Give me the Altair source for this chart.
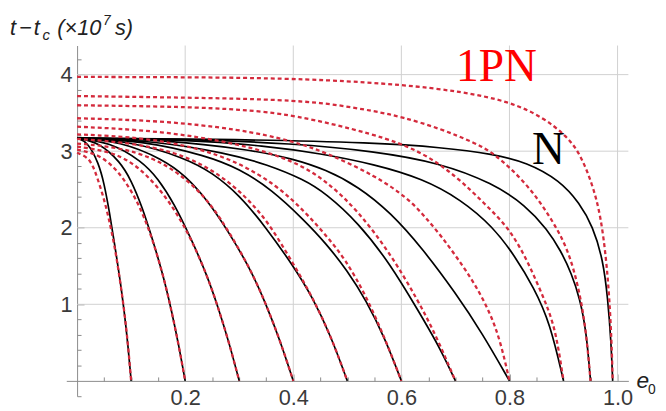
import altair as alt
import pandas as pd

# ---------------- data ----------------
E0 = [0.1, 0.2, 0.3, 0.4, 0.5, 0.6, 0.7, 0.8, 0.9, 0.95, 0.99]

# Newtonian curves (black, solid): eccentricity e and time t (x10^7 s)
N_E = [
    [0, 0.02, 0.04, 0.05, 0.06, 0.07, 0.08, 0.087, 0.094, 0.1],
    [0, 0.04, 0.08, 0.10, 0.12, 0.14, 0.16, 0.174, 0.188, 0.2],
    [0, 0.06, 0.12, 0.15, 0.18, 0.21, 0.24, 0.261, 0.282, 0.3],
    [0, 0.08, 0.16, 0.20, 0.24, 0.28, 0.32, 0.348, 0.376, 0.4],
    [0, 0.10, 0.20, 0.25, 0.30, 0.35, 0.40, 0.435, 0.47, 0.5],
    [0, 0.12, 0.24, 0.30, 0.36, 0.42, 0.46, 0.50, 0.535, 0.57, 0.6],
    [0, 0.14, 0.28, 0.35, 0.42, 0.46, 0.52, 0.58, 0.63, 0.67, 0.7],
    [0, 0.16, 0.32, 0.40, 0.46, 0.52, 0.58, 0.64, 0.70, 0.75, 0.8],
    [0, 0.20, 0.35, 0.45, 0.55, 0.64, 0.71, 0.77, 0.81, 0.845, 0.875, 0.9],
    [0, 0.20, 0.40, 0.55, 0.67, 0.77, 0.83, 0.87, 0.895, 0.915, 0.93, 0.942, 0.95],
    [0, 0.30, 0.552, 0.674, 0.771, 0.832, 0.893, 0.93, 0.954, 0.973, 0.982, 0.988, 0.991],
]
N_T = [
    [3.17, 3.12, 2.84, 2.58, 2.20, 1.76, 1.30, 0.92, 0.48, 0],
    [3.17, 3.12, 2.86, 2.62, 2.28, 1.84, 1.36, 0.94, 0.47, 0],
    [3.17, 3.12, 2.87, 2.64, 2.31, 1.87, 1.39, 0.96, 0.48, 0],
    [3.17, 3.13, 2.89, 2.68, 2.37, 1.95, 1.47, 1.03, 0.52, 0],
    [3.17, 3.13, 2.91, 2.72, 2.43, 2.00, 1.50, 1.10, 0.58, 0],
    [3.17, 3.14, 2.94, 2.77, 2.50, 2.10, 1.80, 1.44, 1.05, 0.55, 0],
    [3.17, 3.14, 2.97, 2.83, 2.63, 2.45, 2.07, 1.52, 0.93, 0.45, 0],
    [3.17, 3.15, 3.02, 2.90, 2.76, 2.54, 2.20, 1.72, 1.15, 0.62, 0],
    [3.17, 3.15, 3.07, 2.97, 2.83, 2.64, 2.37, 2.01, 1.63, 1.22, 0.76, 0],
    [3.17, 3.16, 3.10, 3.00, 2.85, 2.58, 2.29, 1.98, 1.70, 1.40, 1.08, 0.66, 0],
    [3.17, 3.155, 3.11, 3.05, 2.96, 2.855, 2.62, 2.32, 2.02, 1.59, 1.07, 0.51, 0],
]

# 1PN curves (red, dotted)
PN_E = [
    [0, 0.02, 0.03, 0.038, 0.048, 0.056, 0.064, 0.074, 0.087, 0.094, 0.1],
    [0, 0.04, 0.07, 0.09, 0.11, 0.125, 0.14, 0.16, 0.174, 0.188, 0.2],
    [0, 0.06, 0.10, 0.13, 0.16, 0.185, 0.21, 0.24, 0.261, 0.282, 0.3],
    [0, 0.08, 0.14, 0.18, 0.22, 0.25, 0.28, 0.32, 0.348, 0.376, 0.4],
    [0, 0.10, 0.18, 0.24, 0.29, 0.33, 0.36, 0.40, 0.435, 0.47, 0.5],
    [0, 0.12, 0.22, 0.30, 0.37, 0.42, 0.461, 0.497, 0.534, 0.57, 0.6],
    [0, 0.15, 0.30, 0.40, 0.46, 0.52, 0.58, 0.63, 0.665, 0.7],
    [0, 0.15, 0.30, 0.40, 0.461, 0.552, 0.613, 0.643, 0.674, 0.704, 0.735, 0.765, 0.784, 0.8],
    [0, 0.20, 0.30, 0.40, 0.552, 0.637, 0.704, 0.753, 0.796, 0.826, 0.85, 0.872, 0.887, 0.9],
    [0, 0.30, 0.40, 0.47, 0.552, 0.60, 0.674, 0.735, 0.771, 0.832, 0.875, 0.909, 0.93, 0.942, 0.95],
    [0, 0.30, 0.466, 0.60, 0.71, 0.80, 0.863, 0.905, 0.93, 0.954, 0.969, 0.979, 0.985, 0.989, 0.991],
]
PN_T = [
    [2.98, 2.92, 2.80, 2.64, 2.42, 2.20, 1.95, 1.58, 0.94, 0.49, 0],
    [3.02, 2.96, 2.78, 2.60, 2.36, 2.12, 1.84, 1.36, 0.94, 0.47, 0],
    [3.06, 3.00, 2.86, 2.68, 2.44, 2.18, 1.87, 1.39, 0.96, 0.48, 0],
    [3.10, 3.05, 2.91, 2.75, 2.52, 2.28, 1.96, 1.47, 1.03, 0.52, 0],
    [3.16, 3.11, 2.99, 2.80, 2.55, 2.27, 2.00, 1.53, 1.10, 0.58, 0],
    [3.22, 3.18, 3.05, 2.85, 2.55, 2.22, 1.90, 1.58, 1.12, 0.55, 0],
    [3.32, 3.27, 3.10, 2.88, 2.62, 2.22, 1.66, 1.06, 0.58, 0],
    [3.43, 3.40, 3.29, 3.13, 2.98, 2.68, 2.38, 2.15, 1.89, 1.60, 1.28, 0.88, 0.50, 0],
    [3.60, 3.58, 3.545, 3.48, 3.22, 3.00, 2.66, 2.32, 2.02, 1.67, 1.30, 0.94, 0.60, 0],
    [3.72, 3.69, 3.66, 3.62, 3.52, 3.45, 3.29, 3.11, 2.98, 2.58, 2.15, 1.72, 1.16, 0.64, 0],
    [3.97, 3.965, 3.93, 3.87, 3.78, 3.65, 3.44, 3.20, 2.98, 2.56, 2.15, 1.59, 1.07, 0.50, 0],
]

X_MAJOR = [0.2, 0.4, 0.6, 0.8, 1.0]
X_MINOR = [0.05, 0.1, 0.15, 0.25, 0.3, 0.35, 0.45, 0.5, 0.55, 0.65, 0.7, 0.75,
           0.85, 0.9, 0.95]
Y_MAJOR = [1, 2, 3, 4]
Y_MINOR = [-0.2, 0.2, 0.4, 0.6, 0.8, 1.2, 1.4, 1.6, 1.8, 2.2, 2.4, 2.6, 2.8,
           3.2, 3.4, 3.6, 3.8, 4.2]

# ---------------- layout / style ----------------
X_DOMAIN = [-0.02, 1.02]
Y_DOMAIN = [-0.2, 4.38]
W, H = 569, 355
PAD = {"left": 59, "top": 35.5, "right": 30, "bottom": 12.5}

AXIS_COL = "#8a8a8a"
GRID_COL = "#d0d0d0"
LABEL_COL = "#3a3a3a"
RED = "#d42a3c"
FONT = "Liberation Sans"

xfrac0 = (0 - X_DOMAIN[0]) / (X_DOMAIN[1] - X_DOMAIN[0])
yfrac0 = (0 - Y_DOMAIN[0]) / (Y_DOMAIN[1] - Y_DOMAIN[0])

xs = alt.Scale(domain=X_DOMAIN, nice=False, zero=False)
ys = alt.Scale(domain=Y_DOMAIN, nice=False, zero=False)

ax_x_main = alt.Axis(orient="bottom", offset=-yfrac0 * H, values=X_MAJOR, format=".1f",
                     grid=False, ticks=False, tickSize=0, domain=True, domainColor=AXIS_COL,
                     domainWidth=1, labelFont=FONT, labelFontSize=22, labelColor=LABEL_COL,
                     labelPadding=7, labelFlush=False, labelOverlap=False, title=None)
ax_y_main = alt.Axis(orient="left", offset=-xfrac0 * W, values=Y_MAJOR, format="d",
                     grid=False, ticks=False, tickSize=0, domain=True, domainColor=AXIS_COL,
                     domainWidth=1, labelFont=FONT, labelFontSize=22, labelColor=LABEL_COL,
                     labelPadding=5, labelFlush=False, labelOverlap=False, title=None)
ax_x_minor = alt.Axis(orient="top", offset=-(1 - yfrac0) * H, values=X_MINOR, labels=False,
                      grid=False, ticks=True, tickSize=4, tickColor=AXIS_COL, domain=False,
                      title=None)
ax_y_minor = alt.Axis(orient="right", offset=-(1 - xfrac0) * W, values=Y_MINOR, labels=False,
                      grid=False, ticks=True, tickSize=4, tickColor=AXIS_COL, domain=False,
                      title=None)
ax_x_major_t = alt.Axis(orient="top", offset=-(1 - yfrac0) * H, values=X_MAJOR, labels=False,
                        grid=False, ticks=True, tickSize=7, tickColor=AXIS_COL, domain=False,
                        title=None)
ax_y_major_t = alt.Axis(orient="right", offset=-(1 - xfrac0) * W, values=Y_MAJOR, labels=False,
                        grid=False, ticks=True, tickSize=7, tickColor=AXIS_COL, domain=False,
                        title=None)

# ---------------- tables ----------------
def curves_table(e0s, elists, tlists, prefix):
    rows = []
    for e0, es, ts in zip(e0s, elists, tlists):
        for e, t in zip(es, ts):
            rows.append({"curve": f"{prefix}{e0}", "e": e, "t": t})
    return pd.DataFrame(rows)

df_n = curves_table(E0, N_E, N_T, "N")
df_pn = curves_table(E0, PN_E, PN_T, "PN")

grid_v_df = pd.DataFrame({"e": X_MAJOR, "lo": [0.0] * len(X_MAJOR),
                          "hi": [Y_DOMAIN[1]] * len(X_MAJOR)})
grid_h_df = pd.DataFrame({"t": Y_MAJOR, "lo": [0.0] * len(Y_MAJOR),
                          "hi": [X_DOMAIN[1]] * len(Y_MAJOR)})

# ---------------- layers ----------------
grid_v = alt.Chart(grid_v_df).mark_rule(color=GRID_COL, strokeWidth=1).encode(
    x=alt.X("e:Q", scale=xs, axis=ax_x_main),
    y=alt.Y("lo:Q", scale=ys, axis=ax_y_main),
    y2="hi:Q",
)
grid_h = alt.Chart(grid_h_df).mark_rule(color=GRID_COL, strokeWidth=1).encode(
    y=alt.Y("t:Q", scale=ys, axis=ax_y_minor),
    x=alt.X("lo:Q", scale=xs, axis=ax_x_minor),
    x2="hi:Q",
)
black = alt.Chart(df_n).mark_line(color="black", strokeWidth=1.7, interpolate="basis").encode(
    x=alt.X("e:Q", scale=xs, axis=ax_x_major_t),
    y=alt.Y("t:Q", scale=ys, axis=ax_y_major_t),
    detail="curve:N",
)
red = alt.Chart(df_pn).mark_line(color=RED, strokeWidth=2.3, strokeDash=[4, 3],
                                 interpolate="basis").encode(
    x=alt.X("e:Q", scale=xs, axis=None),
    y=alt.Y("t:Q", scale=ys, axis=None),
    detail="curve:N",
)

def text_layer(df, **mark_kw):
    return alt.Chart(df).mark_text(**mark_kw).encode(
        x=alt.X("e:Q", scale=xs, axis=None),
        y=alt.Y("t:Q", scale=ys, axis=None),
        text="text:N",
    )

label_1pn = text_layer(pd.DataFrame({"text": ["1PN"], "e": [0.776], "t": [3.922]}),
                       font="Liberation Serif", fontSize=46, color="#ff0000",
                       align="center", baseline="alphabetic")
label_n = text_layer(pd.DataFrame({"text": ["N"], "e": [0.872], "t": [2.838]}),
                     font="Liberation Serif", fontSize=46, color="black",
                     align="center", baseline="alphabetic")

# y-axis title  t−t_c (×10^7 s)
ytitle_big = text_layer(pd.DataFrame({"text": ["t", "\u2212", "t", "(\u00d710", "s)"],
                                      "e": [-0.1242, -0.1077, -0.0803, -0.0365, 0.0700],
                                      "t": [4.5155, 4.5155, 4.5155, 4.5155, 4.5155]}),
                        font=FONT, fontSize=22, fontStyle="italic", color="#222222",
                        align="left", baseline="alphabetic")
ytitle_sub = text_layer(pd.DataFrame({"text": ["c"], "e": [-0.0639], "t": [4.451]}),
                        font=FONT, fontSize=15, fontStyle="italic", color="#222222",
                        align="left", baseline="alphabetic")
ytitle_sup = text_layer(pd.DataFrame({"text": ["7"], "e": [0.0480], "t": [4.6445]}),
                        font=FONT, fontSize=14, fontStyle="italic", color="#222222",
                        align="left", baseline="alphabetic")

# x-axis title  e_0
xtitle_e = text_layer(pd.DataFrame({"text": ["e"], "e": [1.0350], "t": [-0.0904]}),
                      font=FONT, fontSize=23, fontStyle="italic", color="#222222",
                      align="left", baseline="alphabetic")
xtitle_0 = text_layer(pd.DataFrame({"text": ["0"], "e": [1.0565], "t": [-0.168]}),
                      font=FONT, fontSize=14, color="#222222",
                      align="left", baseline="alphabetic")

chart = alt.layer(
    grid_v, grid_h, black, red, label_1pn, label_n,
    ytitle_big, ytitle_sub, ytitle_sup, xtitle_e, xtitle_0,
).resolve_axis(
    x="independent", y="independent"
).properties(
    width=W, height=H,
    autosize=alt.AutoSizeParams(type="none"),
    padding=PAD,
).configure(
    background="white"
).configure_view(
    strokeWidth=0
)

chart.save("out.html", embed_options={"renderer": "svg", "actions": False})
